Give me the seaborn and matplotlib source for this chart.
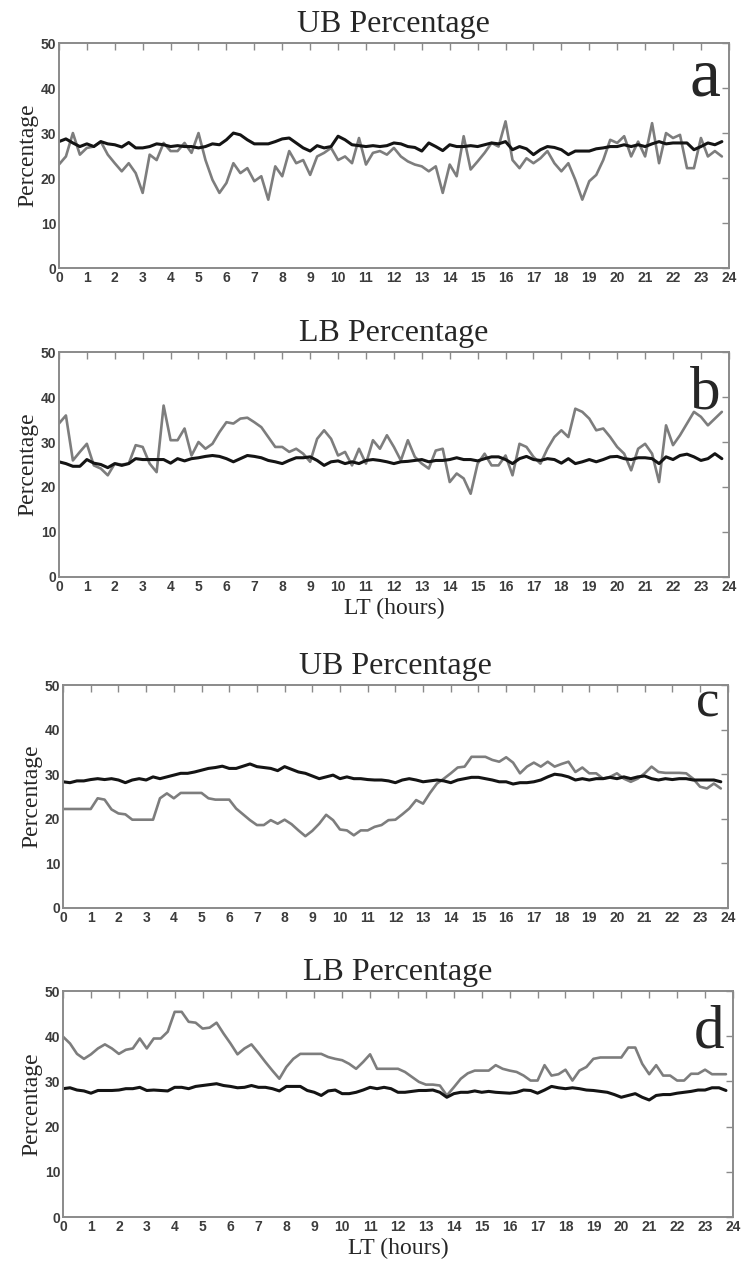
import numpy as np
import pandas as pd
import matplotlib
matplotlib.use('Agg')
import matplotlib.pyplot as plt
import seaborn as sns

# local time grid, 15 min steps
hours = np.arange(0, 24, 0.25)

ub_obs_a = [23.0, 24.8, 30.0, 25.2, 26.7, 27.0, 28.1, 25.2, 23.3, 21.5,
            23.3, 21.1, 16.7, 25.2, 24.0, 27.8, 26.0, 26.0, 27.8, 25.6,
            30.0, 24.0, 19.6, 16.7, 18.9, 23.3, 21.1, 22.2, 19.3, 20.4,
            15.2, 22.6, 20.4, 26.0, 23.3, 24.0, 20.7, 24.8, 25.6, 26.7,
            24.0, 24.8, 23.3, 28.9, 23.0, 25.6,
            26.0, 25.2, 26.7, 24.8, 23.7, 23.0, 22.6, 21.5, 22.6, 16.7,
            23.0, 20.4, 29.3, 21.9, 23.7, 25.6, 27.8, 27.0, 32.6, 24.0,
            22.2, 24.4, 23.3, 24.4, 26.0, 23.3, 21.5, 23.3, 19.6, 15.2,
            19.3, 20.7, 24.0, 28.5, 27.8, 29.3, 24.8, 28.1, 24.8, 32.2,
            23.3, 30.0, 28.9, 29.6, 22.2, 22.2, 28.9, 24.8, 26.0, 24.8]
ub_mod_a = [28.1, 28.7, 27.8, 27.0, 27.6, 27.0, 28.1, 27.6, 27.4, 26.9,
            27.9, 26.7, 26.7, 27.0, 27.6, 27.4, 27.0, 27.2, 27.0, 27.0,
            26.7, 27.0, 27.6, 27.4, 28.5, 30.0, 29.6, 28.5, 27.6, 27.6,
            27.6, 28.1, 28.7, 28.9, 27.8, 26.7, 26.0, 27.2, 26.7, 27.0,
            29.3, 28.5, 27.4, 27.2, 27.0, 27.2,
            27.0, 27.2, 27.8, 27.6, 27.0, 26.8, 26.0, 27.8, 27.0, 26.1,
            27.4, 27.0, 27.0, 27.2, 27.0, 27.4, 27.8, 27.6, 28.1, 26.3,
            27.0, 26.5, 25.2, 26.3, 27.0, 26.8, 26.3, 25.2, 26.0, 26.0,
            26.0, 26.5, 26.7, 27.0, 27.0, 27.4, 27.0, 27.4, 27.0, 27.6,
            28.1, 27.6, 27.8, 27.8, 27.8, 26.3, 27.0, 27.8, 27.4, 28.1]

lb_obs_b = [34.1, 35.9, 25.9, 27.8, 29.6, 24.8, 24.1, 22.6, 25.2, 25.0,
            25.2, 29.3, 28.9, 25.2, 23.3, 38.1, 30.4, 30.4, 33.0, 27.0,
            30.0, 28.5, 29.6, 32.2, 34.4, 34.1, 35.2, 35.4, 34.4, 33.3,
            31.1, 28.9, 28.9, 27.8, 28.5, 27.4, 25.6, 30.7, 32.6, 30.7,
            27.0, 27.8, 24.8, 28.5, 25.2, 30.4,
            28.5, 31.5, 28.9, 25.9, 30.4, 26.7, 25.2, 24.1, 28.1, 28.5,
            21.1, 23.0, 21.9, 18.5, 25.2, 27.4, 24.8, 24.8, 27.0, 22.6,
            29.6, 28.9, 26.7, 25.2, 28.5, 31.1, 32.6, 31.1, 37.4, 36.7,
            35.2, 32.6, 33.0, 31.1, 28.9, 27.4, 23.7, 28.5, 29.6, 27.4,
            21.1, 33.7, 29.3, 31.5, 34.1, 36.7, 35.6, 33.7, 35.2, 36.7]
lb_mod_b = [25.6, 25.2, 24.6, 24.6, 26.1, 25.3, 25.0, 24.3, 25.2, 24.8,
            25.2, 26.3, 26.1, 26.1, 26.1, 26.1, 25.3, 26.3, 25.8, 26.3,
            26.5, 26.8, 27.0, 26.8, 26.3, 25.6, 26.3, 27.0, 26.8, 26.5,
            25.9, 25.6, 25.2, 25.9, 26.5, 26.5, 26.7, 25.9, 24.8, 25.6,
            25.8, 25.2, 25.6, 25.2, 25.9, 26.1,
            25.9, 25.6, 25.2, 25.6, 25.7, 25.9, 26.1, 25.6, 25.9, 25.9,
            26.1, 26.5, 26.1, 26.1, 25.8, 26.3, 26.7, 26.7, 26.1, 25.2,
            26.3, 26.8, 26.1, 25.9, 26.3, 26.1, 25.3, 26.3, 25.2, 25.6,
            26.1, 25.6, 26.1, 26.7, 26.8, 26.3, 26.1, 26.5, 26.5, 26.3,
            25.2, 26.7, 26.1, 27.0, 27.3, 26.7, 25.9, 26.3, 27.4, 26.3]

ub_obs_c = [22.2, 22.2, 22.2, 22.2, 22.2, 24.6, 24.3, 22.1, 21.2, 21.0,
            19.8, 19.8, 19.8, 19.8, 24.6, 25.7, 24.6, 25.8, 25.8, 25.8,
            25.8, 24.6, 24.3, 24.3, 24.3, 22.3, 21.0, 19.7, 18.6, 18.6,
            19.7, 18.9, 19.8, 18.8, 17.4, 16.1, 17.3, 18.9, 20.9, 19.7,
            17.6, 17.4, 16.3, 17.4, 17.4, 18.2,
            18.6, 19.7, 19.8, 21.0, 22.3, 24.2, 23.4, 25.8, 27.9, 29.0,
            30.2, 31.5, 31.7, 33.9, 33.9, 33.9, 33.2, 32.8, 33.8, 32.6,
            30.2, 31.7, 32.6, 31.7, 32.8, 31.7, 32.3, 32.8, 30.5, 31.5,
            30.2, 30.2, 29.0, 29.4, 30.2, 29.0, 28.3, 29.0, 30.2, 31.7,
            30.5, 30.3, 30.3, 30.3, 30.2, 29.0, 27.2, 26.8, 27.9, 26.8]
ub_mod_c = [28.3, 28.1, 28.5, 28.5, 28.8, 29.0, 28.8, 29.0, 28.7, 28.1,
            28.7, 29.0, 28.7, 29.4, 29.0, 29.4, 29.8, 30.2, 30.2, 30.5,
            30.9, 31.3, 31.5, 31.8, 31.3, 31.3, 31.8, 32.3, 31.7, 31.5,
            31.3, 30.8, 31.7, 31.1, 30.5, 30.2, 29.6, 29.0, 29.4, 29.8,
            29.0, 29.4, 29.0, 29.0, 28.8, 28.7,
            28.7, 28.5, 28.1, 28.7, 29.0, 28.7, 28.3, 28.5, 28.7, 28.5,
            28.1, 28.7, 29.0, 29.3, 29.3, 29.0, 28.7, 28.3, 28.3, 27.8,
            28.1, 28.1, 28.3, 28.7, 29.4, 30.0, 29.8, 29.4, 28.7, 29.0,
            28.7, 29.0, 29.0, 29.3, 29.0, 29.4, 29.0, 29.4, 29.6, 29.0,
            28.7, 29.0, 28.8, 29.0, 29.0, 28.7, 28.7, 28.7, 28.7, 28.3]

lb_obs_d = [39.9, 38.4, 36.1, 35.0, 36.0, 37.3, 38.2, 37.3, 36.1, 37.0,
            37.3, 39.5, 37.3, 39.5, 39.5, 41.0, 45.4, 45.4, 43.2, 43.0,
            41.7, 41.9, 43.0, 40.6, 38.4, 36.0, 37.3, 38.2, 36.3, 34.3,
            32.4, 30.6, 33.2, 35.0, 36.1, 36.1, 36.1, 36.1, 35.4, 35.0,
            34.7, 33.9, 32.8, 34.3, 36.0, 32.8,
            32.8, 32.8, 32.8, 32.1, 31.0, 29.9, 29.3, 29.3, 29.1, 26.9,
            28.7, 30.6, 31.8, 32.4, 32.4, 32.4, 33.6, 32.8, 32.4, 32.1,
            31.3, 30.2, 30.2, 33.6, 31.3, 31.6, 32.6, 30.2, 32.4, 33.2,
            35.0, 35.3, 35.3, 35.3, 35.3, 37.5, 37.5, 33.9, 31.6, 33.6,
            31.3, 31.3, 30.2, 30.2, 31.7, 31.7, 32.6, 31.6, 31.6, 31.6]
lb_mod_d = [28.4, 28.6, 28.1, 27.9, 27.4, 28.0, 28.0, 28.0, 28.1, 28.4,
            28.4, 28.7, 28.0, 28.1, 28.0, 27.9, 28.7, 28.7, 28.4, 28.9,
            29.1, 29.3, 29.5, 29.1, 28.9, 28.6, 28.7, 29.1, 28.7, 28.7,
            28.4, 27.9, 28.9, 28.9, 28.9, 28.0, 27.6, 26.9, 27.9, 28.1,
            27.3, 27.3, 27.6, 28.1, 28.7, 28.4,
            28.7, 28.4, 27.6, 27.6, 27.8, 28.0, 28.0, 28.1, 27.6, 26.5,
            27.3, 27.6, 27.6, 27.9, 27.6, 27.8, 27.6, 27.5, 27.4, 27.6,
            28.1, 28.0, 27.4, 28.1, 28.9, 28.6, 28.4, 28.6, 28.4, 28.1,
            28.0, 27.8, 27.6, 27.1, 26.5, 26.9, 27.3, 26.5, 25.9, 26.9,
            27.1, 27.1, 27.4, 27.6, 27.8, 28.1, 28.1, 28.6, 28.6, 28.0]

titles = ['UB Percentage', 'LB Percentage', 'UB Percentage', 'LB Percentage']
letters = ['a', 'b', 'c', 'd']

sns.set_theme(style='white')
plt.rcParams['font.family'] = ['Liberation Sans', 'DejaVu Sans']

fig = plt.figure(figsize=(7.46, 12.74), dpi=100)
# axes rectangles [left, bottom, width, height] in figure fraction
rects = [[0.079, 0.7896, 0.898, 0.1766],
         [0.079, 0.5471, 0.898, 0.1766],
         [0.0845, 0.2873, 0.891, 0.175],
         [0.0845, 0.0447, 0.898, 0.1774]]
letter_y = [0.769, 0.751, 0.857, 0.752]
letter_size = [50, 44, 38, 44]

series = [(ub_obs_a, ub_mod_a), (lb_obs_b, lb_mod_b),
          (ub_obs_c, ub_mod_c), (lb_obs_d, lb_mod_d)]

serif = ['Liberation Serif', 'DejaVu Serif']
frame_col = '#8a8a8a'

for i, (obs, mod) in enumerate(series):
    ax = fig.add_axes(rects[i])
    df = pd.DataFrame({'LT': hours, 'obs': obs, 'mod': mod})
    sns.lineplot(data=df, x='LT', y='obs', ax=ax, color='#7d7d7d', linewidth=1.9)
    sns.lineplot(data=df, x='LT', y='mod', ax=ax, color='#141414', linewidth=2.2)
    ax.set_xlim(0, 24)
    ax.set_ylim(0, 50)
    ax.set_xticks(range(0, 25))
    ax.set_yticks(range(0, 51, 10))
    ax.tick_params(direction='in', top=True, right=True, length=5, width=1,
                   color=frame_col, labelsize=10, labelcolor='#3c3c3c', pad=2)
    for lab in ax.get_xticklabels() + ax.get_yticklabels():
        lab.set_fontweight('bold')
    for sp in ax.spines.values():
        sp.set_color(frame_col)
        sp.set_linewidth(1.4)
    ax.set_title(titles[i], fontsize=23, family=serif, pad=8)
    ax.set_ylabel('Percentage', fontsize=17, family=serif, labelpad=2)
    if i in (1, 3):
        ax.set_xlabel('LT (hours)', fontsize=17, family=serif, labelpad=3)
    else:
        ax.set_xlabel('')
    ax.text(0.987, letter_y[i], letters[i], transform=ax.transAxes,
            ha='right', va='baseline', fontsize=letter_size[i], family=serif)

fig.savefig('out.png', dpi=100)
